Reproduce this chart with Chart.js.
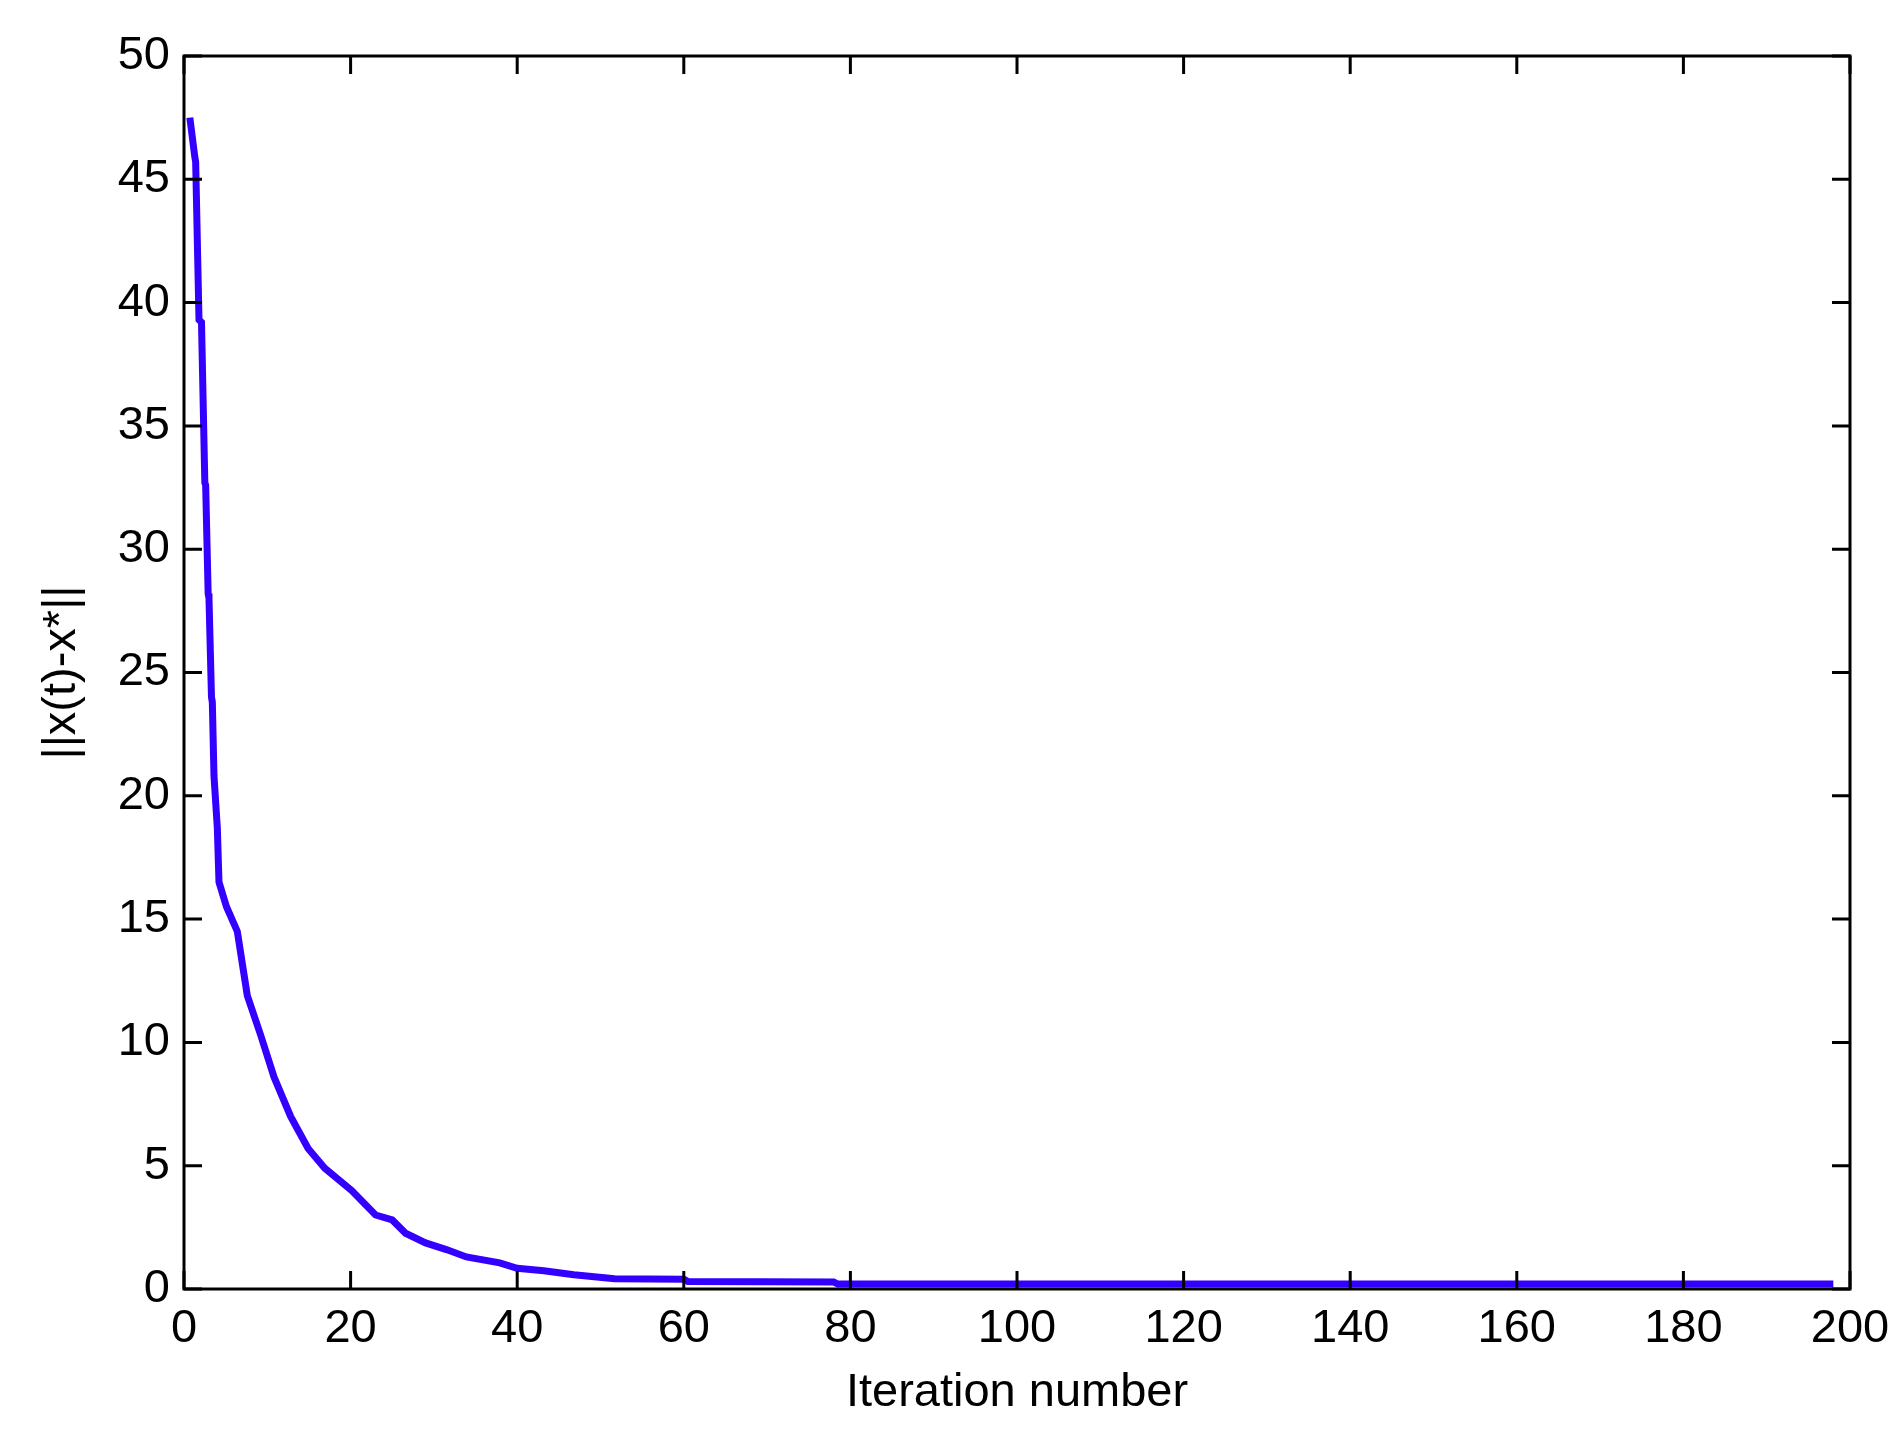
<!DOCTYPE html>
<html>
<head>
<meta charset="utf-8">
<script src="https://cdn.jsdelivr.net/npm/chart.js@4"></script>
<style>
body{margin:0;background:#fff;}
#wrap{width:1904px;height:1439px;}
</style>
</head>
<body>
<div id="wrap"><canvas id="c" width="1904" height="1439"></canvas></div>
<script>
// iteration values and error norm
const iters = [0.7,1.3,1.4,1.8,2.1,2.5,2.6,2.9,3.0,3.3,3.4,3.6,4.0,4.2,5.1,6.4,7.6,9.2,10.8,12.8,14.9,16.9,20.1,23,25,26.6,29,31.5,33.9,37.9,40,43.2,46.8,51.7,60,60.5,78,78.5,198];
const errs  = [47.5,45.9,45.7,39.3,39.2,32.7,32.6,28.2,28.0,24.0,23.8,20.8,18.7,16.5,15.5,14.5,11.9,10.3,8.6,7.0,5.7,4.9,4.0,3.0,2.8,2.26,1.87,1.6,1.3,1.06,0.84,0.74,0.58,0.42,0.4,0.3,0.28,0.2,0.2];
const xTicks = [0,20,40,60,80,100,120,140,160,180,200];
const yTicks = [0,5,10,15,20,25,30,35,40,45,50];

const FONT = 'Liberation Sans, Arial, sans-serif';

// matlab style: box with inward ticks on all four sides
const boxTicks = {
  id:'boxTicks',
  afterDraw(chart){
    const {ctx, chartArea:a, scales:{x,y}} = chart;
    ctx.save();
    ctx.strokeStyle = '#000';
    ctx.lineWidth = 3;
    ctx.strokeRect(a.left, a.top, a.right-a.left, a.bottom-a.top);
    const L = 18;
    ctx.beginPath();
    xTicks.forEach(v=>{
      const px = x.getPixelForValue(v);
      ctx.moveTo(px,a.bottom); ctx.lineTo(px,a.bottom-L);
      ctx.moveTo(px,a.top); ctx.lineTo(px,a.top+L);
    });
    yTicks.forEach(v=>{
      const py = y.getPixelForValue(v);
      ctx.moveTo(a.left,py); ctx.lineTo(a.left+L,py);
      ctx.moveTo(a.right,py); ctx.lineTo(a.right-L,py);
    });
    ctx.stroke();
    ctx.restore();
  }
};

new Chart(document.getElementById('c'),{
  type:'line',
  data:{datasets:[{
    data:iters.map((v,i)=>({x:v,y:errs[i]})),
    borderColor:'#3300ff',
    borderWidth:7,
    pointRadius:0,
    tension:0
  }]},
  options:{
    responsive:false,
    animation:false,
    layout:{padding:{top:56,right:54,left:0,bottom:14}},
    plugins:{legend:{display:false},tooltip:{enabled:false}},
    scales:{
      x:{
        type:'linear',min:0,max:200,
        afterBuildTicks(s){ s.ticks = xTicks.map(v=>({value:v})); },
        afterFit(s){ s.height = 136; },
        grid:{display:false,drawTicks:false},
        border:{display:false},
        ticks:{font:{family:FONT,size:47},color:'#000',padding:12,maxRotation:0},
        title:{display:true,text:'Iteration number',font:{family:FONT,size:47},color:'#000',padding:{top:0}}
      },
      y:{
        min:0,max:50,
        afterBuildTicks(s){ s.ticks = yTicks.map(v=>({value:v})); },
        afterFit(s){ s.width = 184; },
        grid:{display:false,drawTicks:false},
        border:{display:false},
        ticks:{font:{family:FONT,size:47},color:'#000',padding:14},
        title:{display:true,text:'||x(t)-x*||',font:{family:FONT,size:47},color:'#000',padding:{top:34}}
      }
    }
  },
  plugins:[boxTicks]
});
</script>
</body>
</html>
